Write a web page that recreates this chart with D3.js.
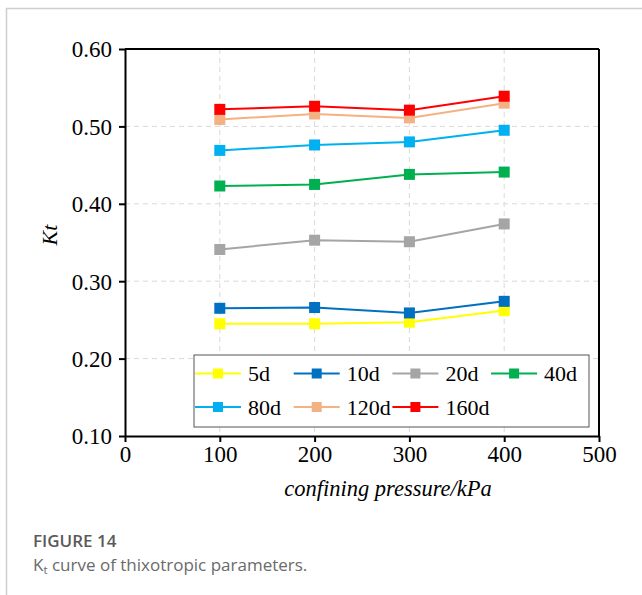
<!DOCTYPE html>
<html>
<head>
<meta charset="utf-8">
<script src="https://cdn.jsdelivr.net/npm/d3@7"></script>
<style>
  body { margin: 0; background: #fff; }
  .tick text { font-family: "Liberation Serif", "Times New Roman", serif; }
</style>
</head>
<body>
<div id="chart"></div>
<script>
// data
var pressures = [100, 200, 300, 400];
var seriesNames = ["5d", "10d", "20d", "40d", "80d", "120d", "160d"];
var seriesColors = ["#ffff00", "#0070c0", "#a5a5a5", "#00b050", "#00b0f0", "#f4b183", "#ff0000"];
var kt5d = [0.245, 0.245, 0.247, 0.262];
var kt10d = [0.265, 0.266, 0.259, 0.274];
var kt20d = [0.341, 0.353, 0.351, 0.374];
var kt40d = [0.423, 0.425, 0.438, 0.441];
var kt80d = [0.469, 0.476, 0.480, 0.495];
var kt120d = [0.509, 0.516, 0.511, 0.530];
var kt160d = [0.522, 0.526, 0.521, 0.539];
var xTicks = [0, 100, 200, 300, 400, 500];
var yTicks = [0.10, 0.20, 0.30, 0.40, 0.50, 0.60];

var allSeries = [kt5d, kt10d, kt20d, kt40d, kt80d, kt120d, kt160d];

var svg_width = 642;
var svg_height = 595;
var margin = { top: 49, right: 43, bottom: 159, left: 125 };
var width = svg_width - margin.left - margin.right;
var height = svg_height - margin.top - margin.bottom;

var svg = d3.select("#chart").append("svg")
  .attr("width", svg_width)
  .attr("height", svg_height);

// card border (left and top visible)
svg.append("path")
  .attr("d", "M6.5,595 L6.5,8.5 L642,8.5")
  .attr("fill", "none")
  .attr("stroke", "#cfcfcf")
  .attr("stroke-width", 1.5);

var chartGroup = svg.append("g")
  .attr("transform", `translate(${margin.left}, ${margin.top})`);

var x = d3.scaleLinear().domain([0, 500]).range([0, width]);
var y = d3.scaleLinear().domain([0.1, 0.6]).range([height, 0]);

// grid
chartGroup.append("g").selectAll("line")
  .data(xTicks.slice(1, -1)).enter().append("line")
  .attr("x1", d => x(d)).attr("x2", d => x(d))
  .attr("y1", 0).attr("y2", height)
  .attr("stroke", "#d9d9d9").attr("stroke-dasharray", "5,4");
chartGroup.append("g").selectAll("line")
  .data(yTicks.slice(1, -1)).enter().append("line")
  .attr("y1", d => y(d)).attr("y2", d => y(d))
  .attr("x1", 0).attr("x2", width)
  .attr("stroke", "#d9d9d9").attr("stroke-dasharray", "5,4");

// axes
var bottomAxis = d3.axisBottom(x).tickValues(xTicks).tickSize(6).tickSizeOuter(0).tickFormat(d3.format("d"));
var leftAxis = d3.axisLeft(y).tickValues(yTicks).tickSize(6).tickSizeOuter(0).tickFormat(d3.format(".2f"));

var gx = chartGroup.append("g")
  .attr("transform", `translate(0, ${height})`)
  .call(bottomAxis);
var gy = chartGroup.append("g").call(leftAxis);

[gx, gy].forEach(function(g) {
  g.select(".domain").attr("stroke", "#000").attr("stroke-width", 2);
  g.selectAll(".tick line").attr("stroke", "#000").attr("stroke-width", 2);
  g.selectAll(".tick text").attr("fill", "#000").attr("font-size", 23);
});
gx.selectAll(".tick text").attr("y", 8).attr("dy", "0.8em");
gy.selectAll(".tick text").attr("x", -13).attr("dy", "0.34em");

// top and right frame
chartGroup.append("line").attr("x1", 0).attr("x2", width).attr("y1", 0).attr("y2", 0)
  .attr("stroke", "#000").attr("stroke-width", 2);
chartGroup.append("line").attr("x1", width).attr("x2", width).attr("y1", 0).attr("y2", height)
  .attr("stroke", "#000").attr("stroke-width", 2);

// lines and markers
var line = d3.line()
  .x((d, i) => x(pressures[i]))
  .y(d => y(d));

allSeries.forEach(function(vals, s) {
  chartGroup.append("path")
    .datum(vals)
    .attr("d", line)
    .attr("fill", "none")
    .attr("stroke", seriesColors[s])
    .attr("stroke-width", 2);
  chartGroup.selectAll(".m" + s).data(vals).enter()
    .append("rect")
    .attr("x", (d, i) => x(pressures[i]) - 5.5)
    .attr("y", d => y(d) - 5.5)
    .attr("width", 11)
    .attr("height", 11)
    .attr("fill", seriesColors[s]);
});

// legend
var legend = svg.append("g").attr("transform", "translate(194, 355)");
legend.append("rect")
  .attr("width", 395).attr("height", 72)
  .attr("fill", "#fff").attr("stroke", "#555").attr("stroke-width", 1);

seriesNames.forEach(function(name, i) {
  var col = i % 4, row = Math.floor(i / 4);
  var cx = 24 + col * 98.7;
  var cy = 18.5 + row * 33.5;
  var item = legend.append("g").attr("transform", `translate(${cx}, ${cy})`);
  item.append("line").attr("x1", -23).attr("x2", 23)
    .attr("stroke", seriesColors[i]).attr("stroke-width", 2);
  item.append("rect").attr("x", -5).attr("y", -5).attr("width", 10).attr("height", 10)
    .attr("fill", seriesColors[i]);
  item.append("text").attr("x", 30).attr("dy", "0.35em")
    .attr("font-family", "Liberation Serif, Times New Roman, serif")
    .attr("font-size", 22)
    .text(name);
});

// axis titles
svg.append("text")
  .attr("x", 388).attr("y", 496)
  .attr("text-anchor", "middle")
  .attr("font-family", "Liberation Serif, Times New Roman, serif")
  .attr("font-style", "italic").attr("font-size", 22.5)
  .text("confining pressure/kPa");

svg.append("text")
  .attr("transform", "translate(57, 235) rotate(-90)")
  .attr("text-anchor", "middle")
  .attr("font-family", "Liberation Serif, Times New Roman, serif")
  .attr("font-style", "italic").attr("font-size", 22)
  .text("Kt");

// caption
svg.append("text")
  .attr("x", 33).attr("y", 547)
  .attr("font-family", "Open Sans, Noto Sans, sans-serif")
  .attr("font-weight", 600).attr("font-size", 17)
  .attr("fill", "#5a5a5a")
  .text("FIGURE 14");

var cap = svg.append("text")
  .attr("x", 33).attr("y", 571)
  .attr("font-family", "Open Sans, Noto Sans, sans-serif")
  .attr("font-size", 17)
  .attr("fill", "#6a6a6a");
cap.append("tspan").text("K");
cap.append("tspan").attr("font-size", 11.5).attr("dy", 3).text("t");
cap.append("tspan").attr("dy", -3).text(" curve of thixotropic parameters.");
</script>
</body>
</html>
